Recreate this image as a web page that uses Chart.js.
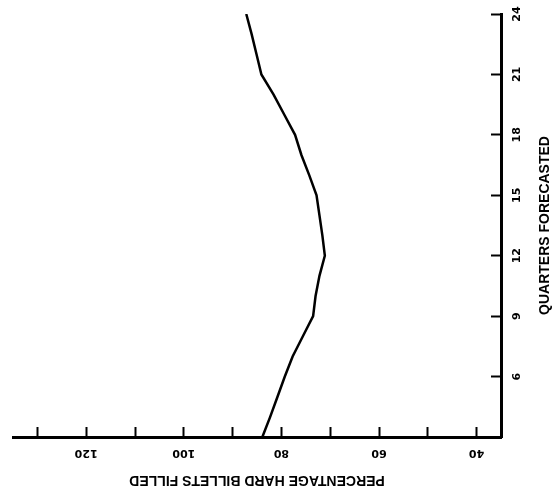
<!DOCTYPE html>
<html>
<head>
<meta charset="utf-8">
<script src="https://cdn.jsdelivr.net/npm/chart.js@4.4.1/dist/chart.umd.min.js"></script>
<style>
html,body{margin:0;padding:0;background:#fff;}
#wrap{width:552px;height:496px;position:relative;}
</style>
</head>
<body>
<div id="wrap"><canvas id="c" width="552" height="496"></canvas></div>
<script>
// Quarter (vertical axis, right) and percentage of hard billets filled (horizontal axis, reversed)
const quarters      = [24, 23, 22, 21, 20, 19, 18, 17, 16, 15, 14, 13, 12, 11, 10, 9, 8, 7, 6, 5, 4, 3];
const percentFilled = [87.2, 86.1, 85.1, 84.1, 81.6, 79.4, 77.2, 75.9, 74.3, 72.8, 72.2, 71.6, 71.1, 72.2, 73.0, 73.5, 75.6, 77.7, 79.3, 80.8, 82.3, 83.9];

const quarterTicks      = [6, 9, 12, 15, 18, 21, 24];
const quarterTickLabels = ['6', '9', '12', '15', '18', '21', '24'];
const percentTicks      = [40, 50, 60, 70, 80, 90, 100, 110, 120, 130];
const percentTickLabels = ['40', '', '60', '', '80', '', '100', '', '120', ''];

const xTitle = 'PERCENTAGE HARD BILLETS FILLED';
const yTitle = 'QUARTERS FORECASTED';

const rotatedText = {
  id: 'rotatedText',
  afterDraw(chart) {
    const ctx = chart.ctx, xs = chart.scales.x, ys = chart.scales.y, ca = chart.chartArea;
    ctx.save();
    ctx.fillStyle = '#000';
    ctx.textAlign = 'center';
    ctx.textBaseline = 'middle';
    ctx.font = 'bold 11px "DejaVu Sans"';
    percentTicks.forEach((v, i) => {
      const lab = percentTickLabels[i];
      if (!lab) return;
      ctx.save();
      ctx.translate(xs.getPixelForValue(v), ca.bottom + 15.5);
      ctx.rotate(Math.PI);
      ctx.fillText(lab, 0, 0);
      ctx.restore();
    });
    quarterTicks.forEach((q, i) => {
      ctx.save();
      ctx.translate(ca.right + 16.5, ys.getPixelForValue(q));
      ctx.rotate(-Math.PI / 2);
      ctx.fillText(quarterTickLabels[i], 0, 0);
      ctx.restore();
    });
    ctx.font = 'bold 14px "Liberation Sans"';
    ctx.save();
    ctx.translate((ca.left + ca.right) / 2, ca.bottom + 43);
    ctx.rotate(Math.PI);
    ctx.fillText(xTitle, 0, 0);
    ctx.restore();
    ctx.save();
    ctx.translate(ca.right + 44.5, (ca.top + ca.bottom) / 2);
    ctx.rotate(-Math.PI / 2);
    ctx.fillText(yTitle, 0, 0);
    ctx.restore();
    ctx.restore();
  }
};

new Chart(document.getElementById('c'), {
  type: 'line',
  data: {
    datasets: [{
      data: quarters.map((q, i) => ({ x: percentFilled[i], y: q })),
      borderColor: '#000',
      borderWidth: 2.5,
      pointRadius: 0,
      tension: 0,
      fill: false
    }]
  },
  options: {
    responsive: false,
    animation: false,
    layout: { padding: { left: 13, right: 51, top: 14, bottom: 59 } },
    plugins: { legend: { display: false }, tooltip: { enabled: false } },
    scales: {
      x: {
        type: 'linear',
        position: 'bottom',
        reverse: true,
        min: 35,
        max: 135,
        afterBuildTicks: s => { s.ticks = percentTicks.map(v => ({ value: v })); },
        afterFit: s => { s.height = 0; },
        ticks: { display: false },
        grid: { display: true, drawOnChartArea: false, drawTicks: true, tickLength: -10, tickWidth: 2, tickColor: '#000' },
        border: { display: true, color: '#000', width: 3 }
      },
      y: {
        type: 'linear',
        position: 'right',
        min: 3,
        max: 24,
        afterBuildTicks: s => { s.ticks = quarterTicks.map(v => ({ value: v })); },
        afterFit: s => { s.width = 0; },
        ticks: { display: false },
        grid: { display: true, drawOnChartArea: false, drawTicks: true, tickLength: -10, tickWidth: 2, tickColor: '#000' },
        border: { display: true, color: '#000', width: 3 }
      }
    }
  },
  plugins: [rotatedText]
});
</script>
</body>
</html>
